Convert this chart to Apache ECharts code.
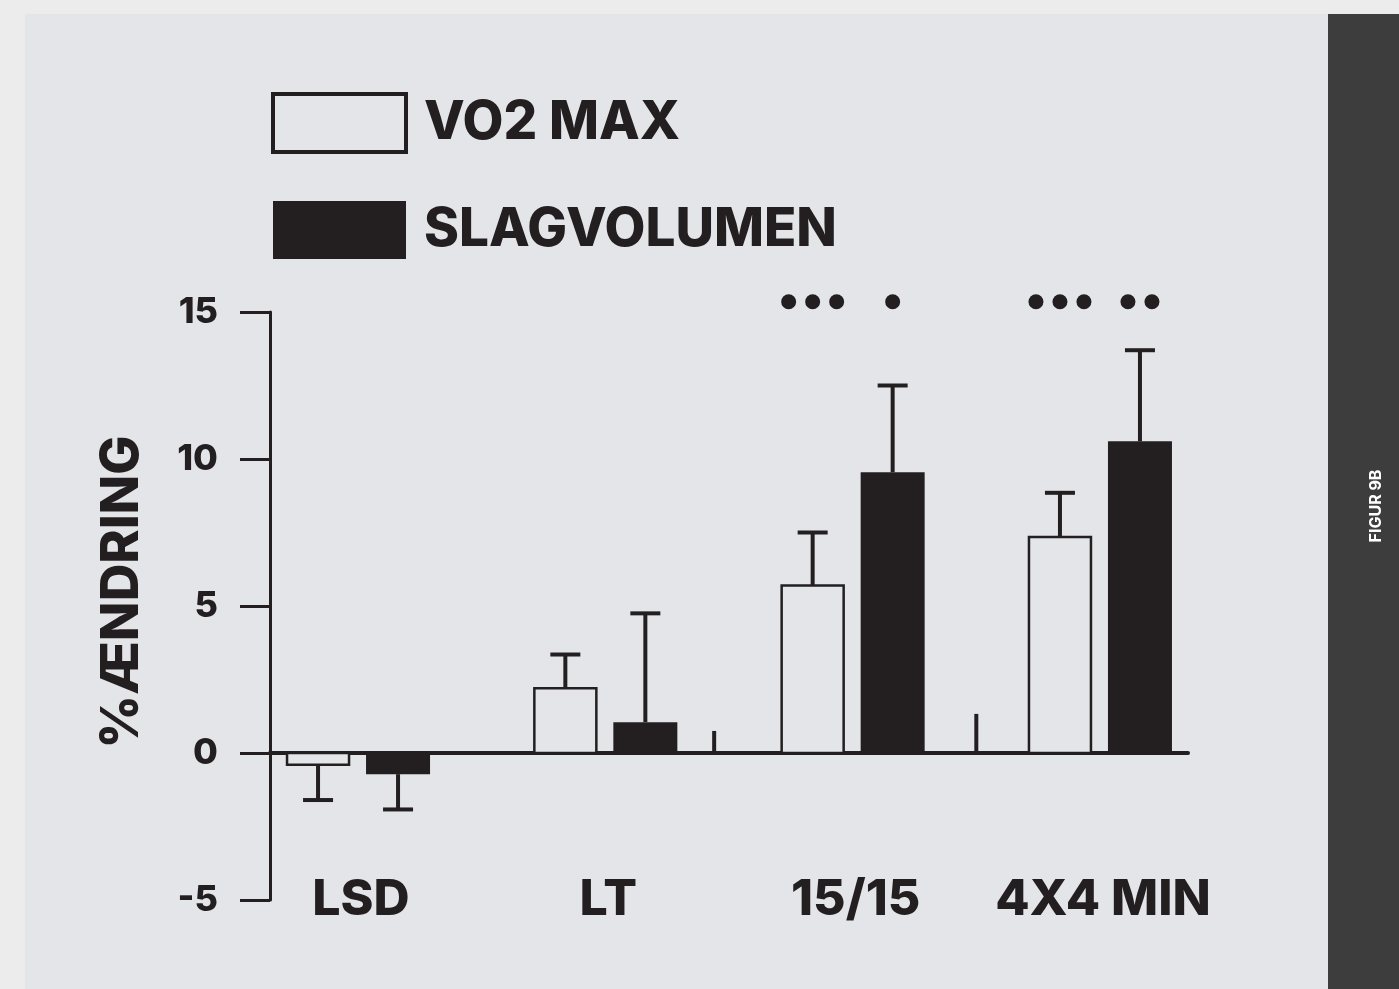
<!DOCTYPE html>
<html>
<head>
<meta charset="utf-8">
<script src="https://cdn.jsdelivr.net/npm/echarts@6/dist/echarts.min.js"></script>
<style>
html,body{margin:0;padding:0;background:#ececec;}
#c{width:1399px;height:989px;}
</style>
</head>
<body>
<div id="c"></div>
<script>
// ---- data ----
const categories = ['LSD', 'LT', '15/15', '4X4 MIN'];
const vo2Max = [-0.4, 2.2, 5.7, 7.35];
const vo2MaxErr = [1.2, 1.15, 1.8, 1.5];
const slagvolumen = [-0.72, 1.05, 9.55, 10.6];
const slagvolumenErr = [1.2, 3.7, 2.95, 3.1];
const vo2Sig = [0, 0, 3, 3];
const svSig = [0, 0, 1, 2];
const sigLevel = 15.35;
const yTicks = [-5, 0, 5, 10, 15];
const strayTicks = [[1.44, 0.75], [2.5, 1.33]];

const FONT = 'Inter';
const INK = '#231f20';
const PANEL = '#e4e5e9';
const BAR_W = 64, HALF_GAP = 40;

function barRender(offset, filled) {
  return function (params, api) {
    const x = api.value(0), v = api.value(1), e = api.value(2);
    const p0 = api.coord([x, 0]);
    const p1 = api.coord([x, v]);
    const pe = api.coord([x, v + (v < 0 ? -e : e)]);
    const cx = p0[0] + offset;
    const top = Math.min(p0[1], p1[1]), h = Math.abs(p1[1] - p0[1]);
    return {
      type: 'group',
      children: [
        { type: 'line', shape: { x1: cx, y1: p1[1], x2: cx, y2: pe[1] }, style: { stroke: INK, lineWidth: 4 } },
        { type: 'line', shape: { x1: cx - 15, y1: pe[1], x2: cx + 15, y2: pe[1] }, style: { stroke: INK, lineWidth: 4 } },
        filled
          ? { type: 'rect', shape: { x: cx - BAR_W / 2, y: top, width: BAR_W, height: h }, style: { fill: INK } }
          : { type: 'rect', shape: { x: cx - BAR_W / 2 + 1, y: top, width: BAR_W - 2, height: h }, style: { fill: PANEL, stroke: INK, lineWidth: 2.5 } }
      ]
    };
  };
}
function sigRender(offset) {
  return function (params, api) {
    const x = api.value(0), n = api.value(1);
    const p = api.coord([x, sigLevel]);
    const children = [];
    for (let k = 0; k < n; k++) {
      const cx = p[0] + offset + (k - (n - 1) / 2) * 24;
      children.push({ type: 'circle', shape: { cx: cx, cy: p[1], r: 7.5 }, style: { fill: INK } });
    }
    return { type: 'group', children: children };
  };
}

const chart = echarts.init(document.getElementById('c'), null, { renderer: 'canvas' });
chart.setOption({
  backgroundColor: '#ececec',
  animation: false,
  graphic: [
    { type: 'rect', z: -100, shape: { x: 25, y: 14, width: 1303, height: 980 }, style: { fill: PANEL } },
    { type: 'rect', z: -100, shape: { x: 1328, y: 14, width: 71, height: 980 }, style: { fill: '#3d3d3d' } },
    { type: 'text', x: 1376, y: 506, rotation: Math.PI / 2,
      style: { text: 'FIGUR 9B', fill: '#ffffff', font: 'bold 16px ' + FONT, align: 'center', verticalAlign: 'middle' } }
  ],
  legend: {
    left: 271, top: 92, orient: 'vertical', selectedMode: false, padding: 0,
    itemWidth: 133, itemHeight: 58, itemGap: 47,
    textStyle: { fontFamily: FONT, fontWeight: 800, fontSize: 53, color: INK, padding: [0, 0, 0, 13], lineHeight: 58 },
    data: [
      { name: 'VO2 MAX', icon: 'rect', itemStyle: { color: PANEL, borderColor: INK, borderWidth: 4 } },
      { name: 'SLAGVOLUMEN', icon: 'rect', itemStyle: { color: INK, borderWidth: 0 } }
    ]
  },
  grid: { left: 270, right: 211, top: 312, bottom: 89, containLabel: false },
  xAxis: [
    { type: 'value', min: -0.356, max: 3.356, axisLine: { onZero: true, lineStyle: { color: INK, width: 4 } },
      axisTick: { show: false }, axisLabel: { show: false }, splitLine: { show: false } },
    { type: 'value', min: -0.356, max: 3.356, position: 'bottom', axisLine: { show: false, onZero: false },
      axisTick: { show: false }, splitLine: { show: false },
      axisLabel: { customValues: [0, 1, 2, 3], margin: 0, verticalAlign: 'middle', padding: [0, 0, 0, 6],
        formatter: function (v) { return categories[Math.round(v)]; },
        fontFamily: FONT, fontWeight: 800, fontSize: 50, color: INK } }
  ],
  yAxis: {
    type: 'value', min: -5, max: 15, interval: 5,
    name: '%ÆNDRING', nameLocation: 'middle', nameGap: 122, nameRotate: 90,
    nameTextStyle: { fontFamily: FONT, fontWeight: 800, fontSize: 52, color: INK, padding: [0, 0, 0, 28] },
    axisLine: { show: true, onZero: false, lineStyle: { color: INK, width: 3 } },
    axisTick: { show: true, length: 30, lineStyle: { color: INK, width: 3 }, customValues: yTicks },
    axisLabel: { margin: 52, fontFamily: FONT, fontWeight: 800, fontSize: 36, color: INK, customValues: yTicks },
    splitLine: { show: false }
  },
  series: [
    { name: 'VO2 MAX', type: 'custom', xAxisIndex: 0, z: 3,
      data: categories.map((c, i) => [i, vo2Max[i], vo2MaxErr[i]]), renderItem: barRender(-HALF_GAP, false) },
    { name: 'SLAGVOLUMEN', type: 'custom', xAxisIndex: 0, z: 3,
      data: categories.map((c, i) => [i, slagvolumen[i], slagvolumenErr[i]]), renderItem: barRender(HALF_GAP, true) },
    { type: 'custom', xAxisIndex: 0, silent: true,
      data: vo2Sig.map((n, i) => [i, n]), renderItem: sigRender(-HALF_GAP) },
    { type: 'custom', xAxisIndex: 0, silent: true,
      data: svSig.map((n, i) => [i, n]), renderItem: sigRender(HALF_GAP) },
    { type: 'custom', xAxisIndex: 0, silent: true,
      data: strayTicks,
      renderItem: function (params, api) {
        const a = api.coord([api.value(0), 0]), b = api.coord([api.value(0), api.value(1)]);
        return { type: 'line', shape: { x1: a[0], y1: a[1], x2: b[0], y2: b[1] }, style: { stroke: INK, lineWidth: 4 } };
      } }
  ]
});
</script>
</body>
</html>
